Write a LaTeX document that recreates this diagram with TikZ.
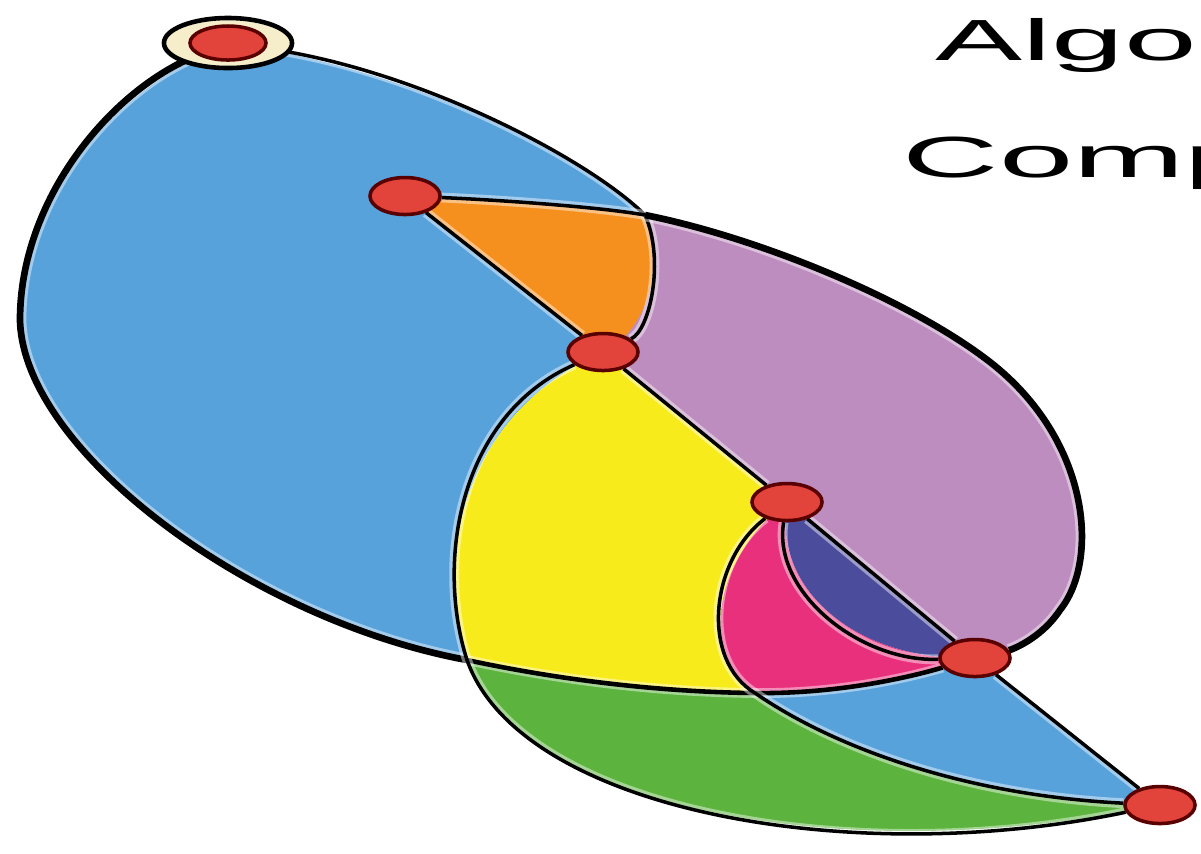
\documentclass[tikz,border=0pt]{standalone}
\usepackage{fontspec}
\setmainfont{Liberation Sans}
\usetikzlibrary{shapes.geometric, arrows.meta}
\pgfdeclarelayer{background}
\pgfsetlayers{background,main}

\definecolor{skyblue}{HTML}{58A2DB}
\definecolor{tanorange}{HTML}{F5901F}
\definecolor{lilac}{HTML}{BD8DBF}
\definecolor{lemon}{HTML}{F8EB1C}
\definecolor{hotpink}{HTML}{E9307C}
\definecolor{indigo}{HTML}{4C4C9C}
\definecolor{grass}{HTML}{5CB33D}
\definecolor{nodered}{HTML}{E2433A}
\definecolor{cream}{HTML}{F6EECB}

\begin{document}
\begin{tikzpicture}[x=0.01cm, y=-0.01cm,
    vtx/.style={ellipse, draw=black!65!red, line width=1pt, fill=nodered, minimum width=0.7cm, minimum height=0.37cm, inner sep=0pt},
    ring/.style={ellipse, draw=black, line width=1.3pt, fill=cream, minimum width=1.28cm, minimum height=0.5cm, inner sep=0pt},
    link/.style={line width=1pt, preaction={draw=white, draw opacity=0.45, line width=2.8pt}},
    rimline/.style={line width=1.9pt, preaction={draw=white, draw opacity=0.45, line width=3.6pt}},
    headtxt/.style={font=\fontsize{16.5}{18}\selectfont, anchor=base west, inner sep=0pt}]
  \useasboundingbox (0,0) rectangle (1201,853);
  \clip (0,0) rectangle (1201,853);

  % vertices
  \node[ring] (Aring) at (228,43) {};
  \node[vtx, minimum width=0.76cm, minimum height=0.34cm] (A) at (228,43) {};
  \node[vtx] (B) at (405,196) {};
  \node[vtx] (C) at (603,352) {};
  \node[vtx] (D) at (787,502) {};
  \node[vtx] (E) at (975,658) {};
  \node[vtx] (F) at (1160,805) {};
  % crossings
  \coordinate (X1) at (467,660);
  \coordinate (X2) at (645,215);
  \coordinate (X3) at (755,693);

  % title, cut at the right edge
  \node[headtxt] (algo) at (935,60) {\scalebox{2.25}[1]{Algo}};
  \node[headtxt] (comp) at (902,177) {\scalebox{2.3}[1]{Comp}};

  \begin{pgfonlayer}{background}
    % faces
    \fill[lilac] (B.center) .. controls (500,200) and (600,207) .. (X2) .. controls (760,238) and (910,300) .. (990,362) .. controls (1090,440) and (1100,560) .. (1060,610) .. controls (1040,640) and (1010,650) .. (E.center) -- (D.center) -- (C.center) -- cycle;
    \fill[skyblue] (A.center) .. controls (110,90) and (20,200) .. (20,320) .. controls (23,450) and (250,620) .. (X1) .. controls (435,560) and (460,415) .. (C.center) -- (B.center) .. controls (500,200) and (600,207) .. (X2) .. controls (590,160) and (420,70) .. (A.center) -- cycle;
    \fill[tanorange] (B.center) .. controls (500,200) and (600,207) .. (X2) .. controls (665,260) and (650,330) .. (C.center) -- cycle;
    \fill[lemon] (C.center) -- (D.center) .. controls (710,560) and (700,660) .. (X3) .. controls (660,692) and (560,680) .. (X1) .. controls (435,560) and (460,415) .. (C.center) -- cycle;
    \fill[hotpink] (D.center) .. controls (772,592) and (860,662) .. (E.center) .. controls (900,680) and (830,694) .. (X3) .. controls (700,660) and (710,560) .. (D.center) -- cycle;
    \fill[indigo] (D.center) -- (E.center) .. controls (860,662) and (772,592) .. (D.center) -- cycle;
    \fill[grass] (X1) .. controls (560,680) and (660,692) .. (X3) .. controls (830,745) and (960,795) .. (F.center) .. controls (850,870) and (520,810) .. (X1) -- cycle;
    \fill[skyblue] (X3) .. controls (830,694) and (900,680) .. (E.center) -- (F.center) .. controls (960,795) and (830,745) .. (X3) -- cycle;

    % edges
    \draw[rimline] (A) .. controls (110,90) and (20,200) .. (20,320) .. controls (23,450) and (250,620) .. (X1);
    \draw[link, line width=1.3pt] (X1) .. controls (560,680) and (660,692) .. (X3) .. controls (830,694) and (900,680) .. (E);
    \draw[link] (A) .. controls (420,70) and (590,160) .. (X2) .. controls (665,260) and (650,330) .. (C);
    \draw[link] (B) .. controls (500,200) and (600,207) .. (X2);
    \draw[rimline] (X2) .. controls (760,238) and (910,300) .. (990,362) .. controls (1090,440) and (1100,560) .. (1060,610) .. controls (1040,640) and (1010,650) .. (E);
    \draw[link] (B) -- (C);
    \draw[link] (C) -- (D);
    \draw[link] (D) -- (E);
    \draw[link] (D) .. controls (772,592) and (860,662) .. (E);
    \draw[link] (C) .. controls (460,415) and (435,560) .. (X1) .. controls (520,810) and (850,870) .. (F);
    \draw[link] (D) .. controls (710,560) and (700,660) .. (X3) .. controls (830,745) and (960,795) .. (F);
    \draw[link] (E) -- (F);
  \end{pgfonlayer}
\end{tikzpicture}
\end{document}
